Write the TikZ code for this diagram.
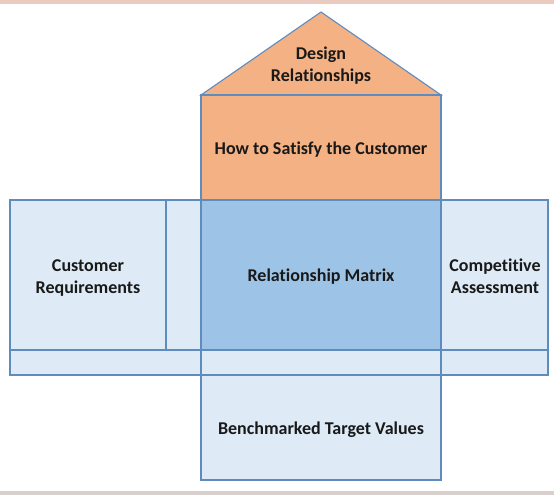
\documentclass[tikz,border=0pt]{standalone}
\usepackage{fontspec}
\setmainfont{Carlito}[RawFeature={-liga}]
\definecolor{roofcol}{HTML}{F4B183}
\definecolor{palecol}{HTML}{DEEBF7}
\definecolor{matrixcol}{HTML}{9DC3E6}
\definecolor{edgecol}{HTML}{5F8CBE}
\definecolor{topband}{HTML}{EBCAC0}
\definecolor{botband}{HTML}{D8D0CC}
\begin{document}
\begin{tikzpicture}[x=1pt, y=-1pt,
    box/.style={draw=edgecol, line width=1.1pt},
    label/.style={font=\bfseries\fontsize{18}{22}\selectfont, align=center, text=black!90}]
    \useasboundingbox (0,0) rectangle (554,495);

    % frame bands
    \fill [topband] (0,0) rectangle (554,4);
    \fill [botband] (0,490.5) rectangle (554,495);

    % roof and ceiling
    \draw [box, fill=roofcol] (201,95) -- (321,12) -- (441,95) -- cycle;
    \draw [box, fill=roofcol] (201,95) rectangle (441,200);

    % main row
    \draw [box, fill=palecol]   (10,200)  rectangle (166,350);
    \draw [box, fill=palecol]   (166,200) rectangle (201,350);
    \draw [box, fill=matrixcol] (201,200) rectangle (441,350);
    \draw [box, fill=palecol]   (441,200) rectangle (548,350);

    % bottom strip and basement
    \draw [box, fill=palecol] (10,350)  rectangle (201,375);
    \draw [box, fill=palecol] (201,350) rectangle (441,375);
    \draw [box, fill=palecol] (441,350) rectangle (548,375);
    \draw [box, fill=palecol] (201,375) rectangle (441,480);

    \node [label] (roof)   at (321,66)  {Design\\Relationships};
    \node [label] (how)    at (321,150) {How to Satisfy the Customer};
    \node [label] (cust)   at (88,278)  {Customer\\Requirements};
    \node [label] (matrix) at (321,277) {Relationship Matrix};
    \node [label] (comp)   at (495,276) {Competitive\\Assessment};
    \node [label] (bench)  at (321,430) {Benchmarked Target Values};
\end{tikzpicture}
\end{document}
